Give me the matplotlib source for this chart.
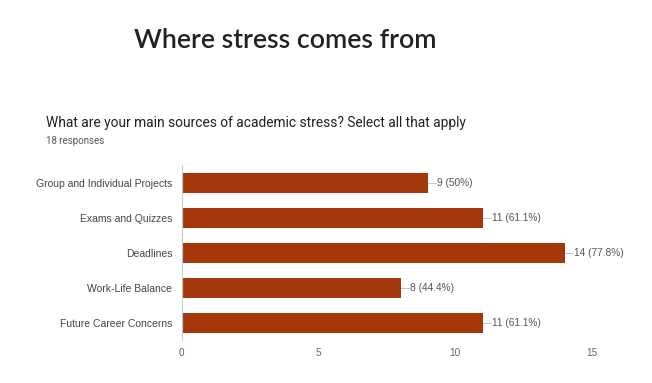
import numpy as np
import matplotlib.pyplot as plt

categories = ["Group and Individual Projects", "Exams and Quizzes", "Deadlines",
              "Work-Life Balance", "Future Career Concerns"]
counts = [9, 11, 14, 8, 11]
percents = ["50%", "61.1%", "77.8%", "44.4%", "61.1%"]
xticks = [0, 5, 10, 15]

bar_color = "#a5380b"
label_font = "Liberation Sans"

fig = plt.figure(figsize=(6.52, 3.83), dpi=100)
fig.patch.set_facecolor("white")

fig.text(0.206, 0.895, "Where stress comes from", fontsize=19.3, family="Lato",
         fontweight="semibold", color="#222222", va="center", ha="left")
fig.text(0.070, 0.680, "What are your main sources of academic stress? Select all that apply",
         fontsize=9.9, family="Roboto", color="#212121", va="center", ha="left")
fig.text(0.070, 0.632, "18 responses", fontsize=7, family="Roboto",
         color="#555555", va="center", ha="left")

ax = fig.add_axes([0.279, 0.112, 0.629, 0.457])
y = np.arange(len(categories))
ax.barh(y, counts, height=0.57, color=bar_color, zorder=2)

for yi, c, p in zip(y, counts, percents):
    ax.plot([c, c + 0.3], [yi, yi], color="#bbbbbb", lw=0.6, zorder=1)
    ax.text(c + 0.33, yi, f"{c} ({p})", fontsize=7.3, family=label_font,
            color="#555555", va="center", ha="left")

ax.set_xlim(0, 15)
ax.set_ylim(len(categories) - 0.5, -0.5)
ax.set_yticks(y)
ax.set_yticklabels(categories, fontsize=7.5, family=label_font, color="#444444")
ax.set_xticks(xticks)
ax.set_xticklabels([str(t) for t in xticks], fontsize=7.2, family=label_font, color="#666666")
ax.tick_params(axis="both", length=0)
ax.tick_params(axis="y", pad=7)
ax.tick_params(axis="x", pad=6)

for s in ["top", "right", "bottom"]:
    ax.spines[s].set_visible(False)
ax.spines["left"].set_color("#cccccc")
ax.spines["left"].set_linewidth(0.8)
ax.set_facecolor("white")

fig.savefig("out.png", dpi=100)
